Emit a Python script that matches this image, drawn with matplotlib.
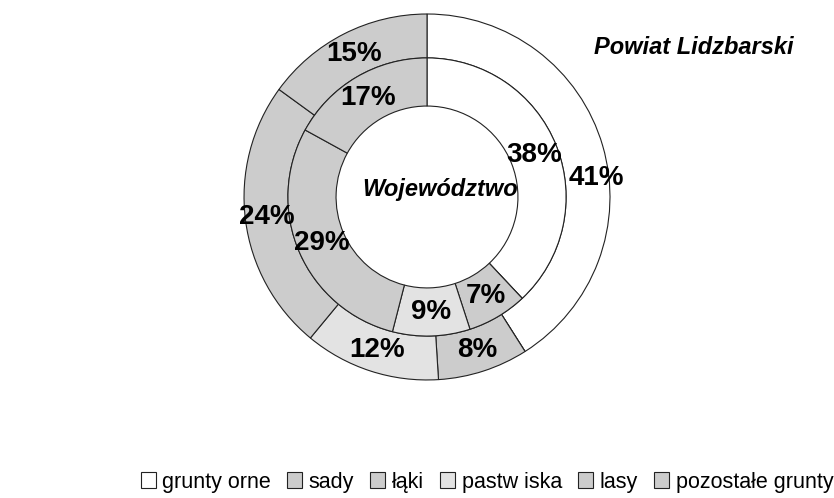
import matplotlib
matplotlib.use('Agg')
import matplotlib.pyplot as plt
import numpy as np

# land use shares in percent
categories = ['grunty orne', 'sady', 'łąki', 'pastw iska', 'lasy', 'pozostałe grunty']
powiat = [41, 0, 8, 12, 24, 15]        # outer ring - Powiat Lidzbarski
wojewodztwo = [38, 0, 7, 9, 29, 17]    # inner ring - Województwo
colors = ['#ffffff', '#cccccc', '#cccccc', '#e3e3e3', '#cccccc', '#cccccc']

plt.rcParams['font.family'] = ['Liberation Sans', 'DejaVu Sans']

fig = plt.figure(figsize=(8.34, 4.98), dpi=100)
ax = fig.add_axes([0.2926, 0.237, 0.4388, 0.7349])

r_out = 1.0
r_mid = 0.76
r_hole = 0.497
edge = dict(edgecolor='#222222', linewidth=0.8)

w_out, _ = ax.pie(powiat, radius=r_out, colors=colors, startangle=90,
                  counterclock=False, wedgeprops=dict(width=r_out - r_mid, **edge))
w_in, _ = ax.pie(wojewodztwo, radius=r_mid, colors=colors, startangle=90,
                 counterclock=False, wedgeprops=dict(width=r_mid - r_hole, **edge))

# 41% label was moved by hand in the original
nudge = {('out', 0): (0.08, -0.14)}

def put_labels(wedges, vals, r, tag):
    for i, (w, v) in enumerate(zip(wedges, vals)):
        if v == 0:
            continue
        th = np.deg2rad((w.theta1 + w.theta2) / 2)
        x, y = r * np.cos(th), r * np.sin(th)
        dx, dy = nudge.get((tag, i), (0, 0))
        ax.text(x + dx, y + dy, f'{v}%', ha='center', va='center',
                fontsize=20, fontweight='bold')

put_labels(w_out, powiat, (r_out + r_mid) / 2, 'out')
put_labels(w_in, wojewodztwo, (r_mid + r_hole) / 2, 'in')

ax.text(0.07, 0.04, 'Województwo', ha='center', va='center',
        fontsize=17, fontweight='bold', style='italic')
fig.text(694 / 834, 1 - 48 / 498, 'Powiat Lidzbarski', ha='center', va='center',
         fontsize=17, fontweight='bold', style='italic')

ax.set_xlim(-1, 1)
ax.set_ylim(-1, 1)
ax.set_aspect('equal')
ax.axis('off')

fig.legend(w_out, categories, loc='center', bbox_to_anchor=(487 / 834, 1 - 482 / 498),
           ncol=6, frameon=False, fontsize=15.5, handlelength=0.7, handleheight=0.7,
           handletextpad=0.3, columnspacing=0.75, borderaxespad=0)

fig.savefig('out.png', dpi=100)
